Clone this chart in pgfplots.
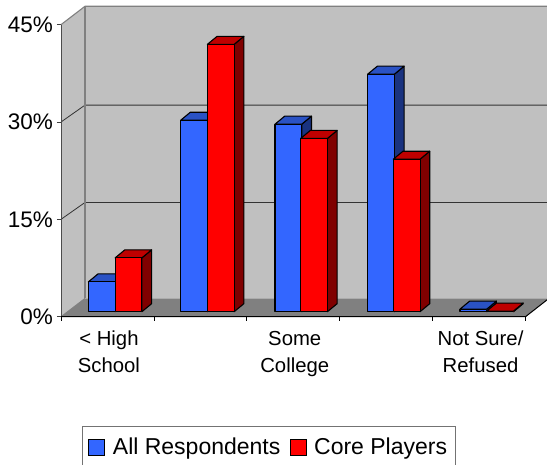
\documentclass[border=0pt]{standalone}
\usepackage{pgfplots}
\pgfplotsset{compat=1.18}
\usepackage{fontspec}
\setmainfont{Liberation Sans}

\definecolor{wall}{HTML}{C0C0C0}
\definecolor{floorc}{HTML}{808080}
\definecolor{blueF}{HTML}{3366FF}
\definecolor{blueT}{HTML}{2A52C4}
\definecolor{blueS}{HTML}{1A3380}
\definecolor{redF}{HTML}{FF0000}
\definecolor{redT}{HTML}{BF0000}
\definecolor{redS}{HTML}{800000}

% oblique depth of the bars and of the chart box, in axis units
\def\bw{0.288}
\def\base{0.77}
\def\bdx{0.104}
\def\bdy{1.23}
\def\wdx{0.258}
\def\wdy{2.83}

% left edge, value, front, top, side
\newcommand{\cuboid}[5]{%
  \pgfmathsetmacro\xa{#1}%
  \pgfmathsetmacro\xb{#1+\bw}%
  \pgfmathsetmacro\xc{#1+\bw+\bdx}%
  \pgfmathsetmacro\xd{#1+\bdx}%
  \pgfmathsetmacro\ya{\base}%
  \pgfmathsetmacro\yb{\base+#2}%
  \pgfmathsetmacro\yc{\base+#2+\bdy}%
  \pgfmathsetmacro\ye{\base+\bdy}%
  \addplot[draw=black, line width=1.1bp, line join=round, fill=#5, forget plot] coordinates {(\xb,\ya) (\xc,\ye) (\xc,\yc) (\xb,\yb)} -- cycle;
  \addplot[draw=black, line width=1.1bp, line join=round, fill=#4, forget plot] coordinates {(\xa,\yb) (\xb,\yb) (\xc,\yc) (\xd,\yc)} -- cycle;
  \addplot[draw=black, line width=1.1bp, line join=round, fill=#3, forget plot] coordinates {(\xa,\ya) (\xb,\ya) (\xb,\yb) (\xa,\yb)} -- cycle;
}

\begin{document}
\begin{tikzpicture}
\useasboundingbox (0,0) rectangle (547bp,465bp);
\begin{axis}[
  at={(61bp,148.3bp)}, anchor=south west,
  scale only axis, width=488bp, height=310.4bp,
  xmin=0, xmax=5.253, ymin=0, ymax=47.83,
  clip=false,
  axis x line=bottom, axis y line=left,
  axis line style={draw=none},
  tick align=outside,
  ytick={0,15,30,45},
  yticklabels={0\%,15\%,30\%,45\%},
  yticklabel style={font=\fontsize{22.5bp}{24bp}\selectfont, inner sep=0pt, xshift=-4bp},
  xtick={0.5,1.5,2.5,3.5,4.5},
  xticklabels={{< High\\School},{},{Some\\College},{},{Not Sure/\\Refused}},
  xticklabel style={font=\fontsize{20.3bp}{27bp}\selectfont, align=center, inner sep=0pt, yshift=-10bp, xshift=1.5bp},
  minor xtick={0,1,2,3,4,5},
  major tick length=4bp, minor tick length=4bp,
  major x tick style={draw=none},
  minor x tick style={draw=black, line width=0.8bp},
  y tick style={draw=black!75, line width=0.8bp},
  legend style={at={(axis cs:0.223,-16.8)}, anchor=north west, draw=black!55, line width=0.8bp,
    font=\fontsize{23bp}{25bp}\selectfont, inner xsep=6bp, inner ysep=10bp,
    column sep=0pt, legend cell align=left},
  legend columns=2,
]
% legend keys
\addlegendimage{legend image code/.code={\draw[draw=black, line width=0.8bp, fill=blueF] (0bp,-8bp) rectangle (16bp,8bp);}}
\addlegendentry{\hspace*{6bp}All Respondents\rule{8bp}{0pt}}
\addlegendimage{legend image code/.code={\draw[draw=black, line width=0.8bp, fill=redF] (0bp,-8bp) rectangle (16bp,8bp);}}
\addlegendentry{\hspace*{5bp}Core Players}

% walls and floor
\addplot[draw=none, fill=wall, forget plot] coordinates {(0,0) (\wdx,\wdy) (\wdx,47.83) (0,45)} -- cycle;
\addplot[draw=none, fill=wall, forget plot] coordinates {(\wdx,\wdy) (5.253,\wdy) (5.253,47.83) (\wdx,47.83)} -- cycle;
\addplot[draw=none, fill=floorc, forget plot] coordinates {(0,0) (5,0) (5.253,\wdy) (\wdx,\wdy)} -- cycle;

% gridlines
\addplot[draw=black!80, line width=0.8bp, forget plot] coordinates {(0,15) (\wdx,17.6) (5.253,17.6)};
\addplot[draw=black!80, line width=0.8bp, forget plot] coordinates {(0,30) (\wdx,32.6) (5.253,32.6)};

% wall edges
\addplot[draw=floorc, line width=1.1bp, forget plot] coordinates {(0,45) (\wdx,47.83) (5.253,47.83)};
\addplot[draw=floorc, line width=1.1bp, forget plot] coordinates {(\wdx,\wdy) (\wdx,47.83)};
\addplot[draw=floorc, line width=0.8bp, forget plot] coordinates {(0,0) (\wdx,\wdy)};
\addplot[draw=black!70, line width=1bp, forget plot] coordinates {(0,0) (0,45)};
\addplot[draw=black, line width=1bp, forget plot] coordinates {(0,0) (5,0) (5.253,\wdy)};

% bars: left edge and value in percent
\cuboid{0.295}{4.6}{blueF}{blueT}{blueS}
\cuboid{0.583}{8.3}{redF}{redT}{redS}
\cuboid{1.288}{29.5}{blueF}{blueT}{blueS}
\cuboid{1.576}{41.2}{redF}{redT}{redS}
\cuboid{2.304}{28.9}{blueF}{blueT}{blueS}
\cuboid{2.580}{26.7}{redF}{redT}{redS}
\cuboid{3.301}{36.6}{blueF}{blueT}{blueS}
\cuboid{3.577}{23.5}{redF}{redT}{redS}
\cuboid{4.295}{0.4}{blueF}{blueT}{blueS}
\cuboid{4.583}{0.1}{redF}{redT}{redS}
\end{axis}
\end{tikzpicture}
\end{document}
